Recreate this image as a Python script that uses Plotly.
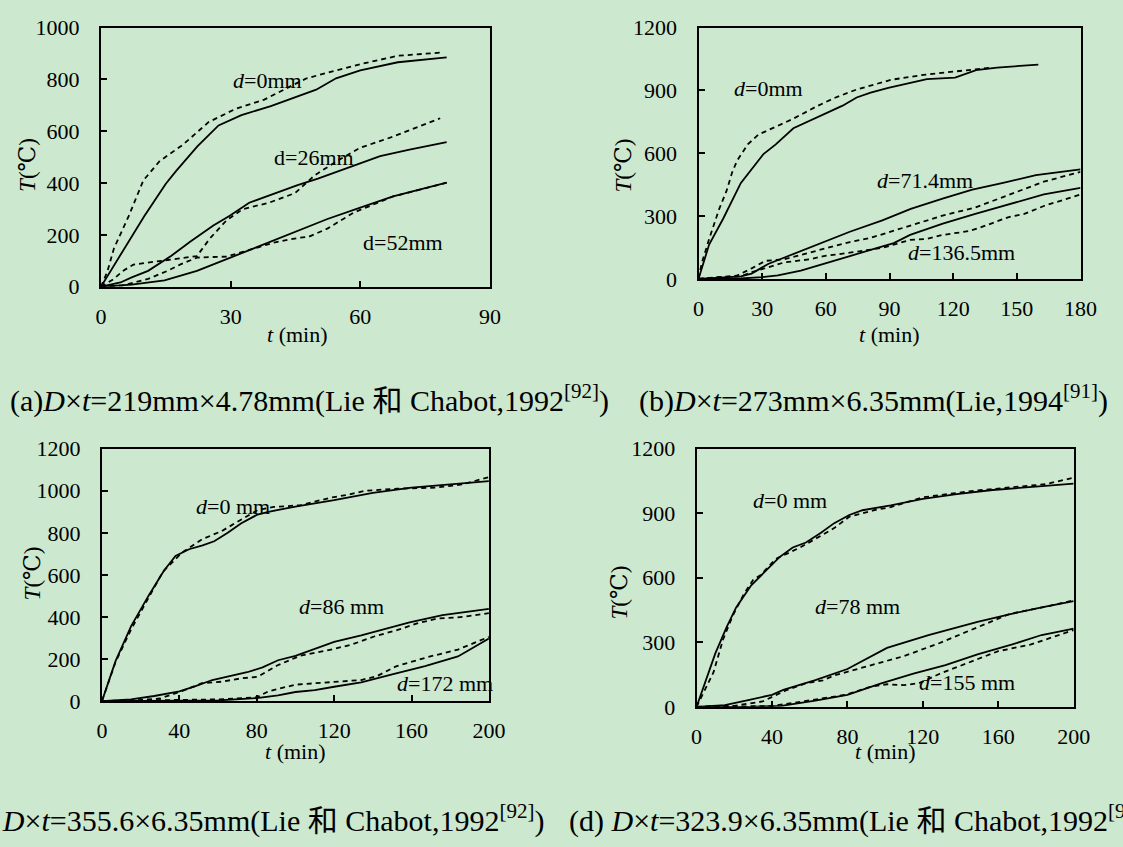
import plotly.graph_objects as go

W, H = 1123, 847
BG = "#cce8cf"
FONT = "Liberation Serif"
SYMFONT = "Liberation Serif, DejaVu Serif"
CJK = "<span style=\"font-family:'Noto Sans CJK SC'\">{}</span>"

# ---------------- data ----------------
# (a) D x t = 219 x 4.78 mm, Lie & Chabot 1992
a_d0_calc_t = [0, 5, 10, 15, 17.4, 22.3, 27.2, 32.5, 39.3, 49.8, 54.4, 60, 68.7, 80]
a_d0_calc_T = [0, 136, 272, 397, 447, 541, 622, 662, 697, 760, 804, 835, 866, 885]
a_d0_test_t = [0, 1.5, 3, 6.4, 9.8, 13.6, 18.9, 24.9, 31, 37.8, 43, 47.6, 53.6, 60.4, 68.7, 79.3]
a_d0_test_T = [0, 60, 148, 272, 410, 485, 547, 635, 685, 722, 766, 804, 831, 860, 891, 904]
a_d26_calc_t = [0, 4.5, 7.1, 10.9, 16.2, 20.7, 26, 29.8, 34.3, 40.4, 45.5, 50.2, 56.2, 64.6, 71.4, 80]
a_d26_calc_T = [0, 16, 36, 61, 118, 174, 236, 274, 324, 361, 392, 417, 454, 504, 529, 558]
a_d26_test_t = [0, 3, 5, 7.5, 12.8, 18, 22.2, 25.2, 29, 32.8, 38.9, 44.9, 49.4, 54.7, 60, 67.6, 78.5]
a_d26_test_T = [0, 30, 60, 85, 97, 108, 118, 186, 255, 299, 324, 361, 429, 486, 536, 579, 650]
a_d52_calc_t = [0, 7.1, 14.7, 22.2, 29.8, 37.3, 44.9, 52.4, 60, 67.6, 80]
a_d52_calc_T = [0, 7.5, 24, 61, 111, 161, 211, 261, 305, 348, 401]
a_d52_test_t = [0, 5, 10.9, 15.4, 18.4, 22.2, 25, 29, 33, 40, 45.6, 48, 52.4, 58.5, 67.6, 75.9, 80]
a_d52_test_T = [0, 5, 30, 61, 86, 112, 114, 116, 135, 170, 188, 192, 224, 286, 348, 383, 401]

# (b) D x t = 273 x 6.35 mm, Lie 1994
b_d0_calc_t = [0, 5, 11.6, 19.9, 30.6, 36.4, 44.7, 53, 59.6, 67.9, 74.5, 81.1, 89.4, 97.7, 107.6, 120.9, 130.8, 140.7, 160.1]
b_d0_calc_T = [0, 164, 287, 457, 596, 642, 719, 758, 789, 827, 866, 889, 912, 932, 954, 961, 997, 1009, 1023]
b_d0_test_t = [0, 1.5, 5, 9.7, 13.2, 15.9, 18.2, 23.2, 28.1, 34.8, 44.7, 56.3, 64.6, 74.5, 81.1, 91, 106, 119.2, 138.2]
b_d0_test_T = [0, 75, 190, 333, 420, 510, 565, 642, 688, 719, 765, 827, 866, 904, 923, 951, 974, 989, 1009]
b_d71_calc_t = [0, 10, 20, 25, 32.8, 40.5, 48.2, 59, 71.3, 86.6, 100, 115, 129, 143, 159, 180]
b_d71_calc_T = [0, 5, 12, 25, 71, 102, 132, 176, 225, 279, 334, 383, 426, 457, 495, 523]
b_d71_test_t = [0, 10, 18, 25, 31.5, 40.5, 52, 60.5, 71.3, 80.5, 86.6, 99.7, 115, 130.4, 150.4, 162.7, 180]
b_d71_test_T = [0, 8, 15, 50, 86, 94, 125, 148, 176, 194, 213, 256, 302, 341, 418, 464, 511]
b_d136_calc_t = [0, 20, 30, 37.4, 48.2, 59, 71.3, 84.3, 92, 99.7, 115.1, 130.4, 146, 162.7, 180]
b_d136_calc_T = [0, 2, 8, 17, 40, 71, 109, 148, 171, 210, 264, 310, 355, 403, 434]
b_d136_test_t = [0, 10, 20, 25, 32.8, 40.5, 52.8, 59, 71.3, 80.5, 86.6, 99.7, 107.4, 115.1, 127.4, 133.5, 145.8, 153.5, 162.7, 180]
b_d136_test_T = [0, 8, 12, 32, 55, 79, 94, 109, 125, 140, 148, 186, 191, 210, 228, 248, 294, 310, 348, 403]

# (c) D x t = 355.6 x 6.35 mm, Lie & Chabot 1992
c_d0_calc_t = [0, 7, 15, 24, 32, 38, 45, 52, 58, 65, 72, 80, 86, 100, 120, 140, 160, 180, 200]
c_d0_calc_T = [0, 190, 355, 500, 620, 690, 722, 740, 760, 800, 846, 885, 900, 925, 955, 990, 1015, 1030, 1046]
c_d0_test_t = [0, 7, 15, 24, 31.5, 41.6, 51.7, 61.8, 72, 80.4, 88.8, 102.3, 119.1, 127.6, 136, 152.8, 172.6, 186, 200]
c_d0_test_T = [0, 185, 340, 490, 615, 708, 769, 808, 862, 908, 923, 931, 969, 982, 1000, 1010, 1015, 1030, 1065]
c_d86_calc_t = [0, 15, 27, 40, 48, 57, 66, 75, 83, 91, 100, 120, 134, 159, 176, 200]
c_d86_calc_T = [0, 8, 24, 46, 70, 100, 118, 137, 160, 194, 215, 281, 312, 374, 409, 438]
c_d86_test_t = [0, 20, 30, 40.7, 51.7, 61.8, 72, 80.4, 90.5, 102.3, 119.1, 129.2, 141, 152.8, 162.9, 173, 186.5, 200]
c_d86_test_T = [0, 5, 12, 45, 85, 92, 108, 115, 169, 215, 246, 269, 308, 338, 369, 392, 400, 418]
c_d172_calc_t = [0, 40, 60, 80, 91, 100, 110, 120, 134, 150, 167, 184, 200]
c_d172_calc_T = [0, 1, 3, 14, 27, 43, 52, 68, 89, 127, 166, 212, 297]
c_d172_test_t = [0, 20, 40, 60, 80, 86, 100, 119, 134, 142, 152, 168, 184, 200]
c_d172_test_T = [0, 2, 5, 8, 18, 46, 78, 92, 100, 118, 165, 208, 245, 305]

# (d) D x t = 323.9 x 6.35 mm, Lie & Chabot 1992
d_d0_calc_t = [0, 5, 10, 16, 21, 29, 36, 44, 51, 58, 66, 73, 81, 88, 103, 120, 138, 157, 185, 200]
d_d0_calc_T = [0, 125, 250, 372, 462, 565, 628, 696, 741, 764, 809, 854, 892, 914, 937, 967, 989, 1008, 1027, 1038]
d_d0_test_t = [0, 4, 9, 14, 19, 25, 30, 34, 42, 55, 66, 73, 81, 94, 103, 120, 133, 148, 166, 185, 200]
d_d0_test_T = [0, 70, 161, 312, 420, 523, 590, 613, 688, 741, 794, 831, 884, 914, 929, 974, 989, 1005, 1020, 1035, 1065]
d_d78_calc_t = [0, 15, 28, 40, 46, 63, 80, 101, 123, 149, 167, 183, 200]
d_d78_calc_T = [0, 8, 33, 56, 79, 124, 176, 274, 334, 395, 432, 463, 492]
d_d78_test_t = [0, 20, 35, 47, 58, 67, 73, 92, 110, 129, 153, 166, 185, 200]
d_d78_test_T = [0, 5, 25, 75, 110, 123, 146, 191, 236, 297, 387, 432, 465, 495]
d_d155_calc_t = [0, 30, 45, 63, 80, 97.5, 115, 132, 149, 167, 183, 200]
d_d155_calc_T = [0, 1, 5, 29, 56, 108, 154, 194, 244, 289, 334, 364]
d_d155_test_t = [0, 20, 40, 60, 79, 92, 101, 110, 118, 129, 144, 160, 177, 200]
d_d155_test_T = [0, 2, 4, 30, 56, 93, 105, 101, 110, 154, 206, 259, 289, 357]

# axis ticks
a_xticks = [0, 30, 60, 90]
a_yticks = [0, 200, 400, 600, 800, 1000]
b_xticks = [0, 30, 60, 90, 120, 150, 180]
b_yticks = [0, 300, 600, 900, 1200]
c_xticks = [0, 40, 80, 120, 160, 200]
c_yticks = [0, 200, 400, 600, 800, 1000, 1200]
d_xticks = [0, 40, 80, 120, 160, 200]
d_yticks = [0, 300, 600, 900, 1200]

# ---------------- layout helpers ----------------
def fx(px):
    return px / W

def fy(py):
    return 1 - py / H

fig = go.Figure()

panels = [
    ("", (97, 494), (16, 283), [0, 90], [0, 1000], a_xticks, a_yticks,
     [(a_d0_calc_t, a_d0_calc_T, "solid"), (a_d0_test_t, a_d0_test_T, "dash"),
      (a_d26_calc_t, a_d26_calc_T, "solid"), (a_d26_test_t, a_d26_test_T, "dash"),
      (a_d52_calc_t, a_d52_calc_T, "solid"), (a_d52_test_t, a_d52_test_T, "dash")]),
    ("2", (707, 1097), (16, 275), [0, 180], [0, 1200], b_xticks, b_yticks,
     [(b_d0_calc_t, b_d0_calc_T, "solid"), (b_d0_test_t, b_d0_test_T, "dash"),
      (b_d71_calc_t, b_d71_calc_T, "solid"), (b_d71_test_t, b_d71_test_T, "dash"),
      (b_d136_calc_t, b_d136_calc_T, "solid"), (b_d136_test_t, b_d136_test_T, "dash")]),
    ("3", (98, 493), (450, 710), [0, 200], [0, 1200], c_xticks, c_yticks,
     [(c_d0_calc_t, c_d0_calc_T, "solid"), (c_d0_test_t, c_d0_test_T, "dash"),
      (c_d86_calc_t, c_d86_calc_T, "solid"), (c_d86_test_t, c_d86_test_T, "dash"),
      (c_d172_calc_t, c_d172_calc_T, "solid"), (c_d172_test_t, c_d172_test_T, "dash")]),
    ("4", (705, 1090), (450, 716), [0, 200], [0, 1200], d_xticks, d_yticks,
     [(d_d0_calc_t, d_d0_calc_T, "solid"), (d_d0_test_t, d_d0_test_T, "dash"),
      (d_d78_calc_t, d_d78_calc_T, "solid"), (d_d78_test_t, d_d78_test_T, "dash"),
      (d_d155_calc_t, d_d155_calc_T, "solid"), (d_d155_test_t, d_d155_test_T, "dash")]),
]

axis_style = dict(showline=True, linecolor="black", linewidth=2, mirror=True,
                  ticks="inside", ticklen=6, tickwidth=1.5, tickcolor="black",
                  showgrid=False, zeroline=False,
                  tickfont=dict(family=FONT, size=22, color="black"))

for suf, (x0, x1), (ytop, ybot), xr, yr, xt, yt, series in panels:
    xa = "x" + suf
    ya = "y" + suf
    for t, T, style in series:
        fig.add_trace(go.Scatter(
            x=t, y=T, mode="lines", xaxis=xa, yaxis=ya, showlegend=False,
            line=dict(color="black", width=1.8,
                      dash="solid" if style == "solid" else "5px,4px")))
    fig.layout["xaxis" + suf] = dict(axis_style, domain=[fx(x0), fx(x1)], range=xr,
                                    tickvals=xt, anchor=ya, ticklabelstandoff=9)
    fig.layout["yaxis" + suf] = dict(axis_style, domain=[fy(ybot), fy(ytop)], range=yr,
                                    tickvals=yt, anchor=xa, ticklabelstandoff=15)

annotations = []

def text(x, y, s, size=22, xanchor="left", angle=0, family=FONT):
    annotations.append(dict(x=fx(x), y=fy(y), xref="paper", yref="paper", text=s,
                            showarrow=False, xanchor=xanchor, yanchor="middle",
                            textangle=angle,
                            font=dict(family=family, size=size, color="black")))

# axis titles
for cx, cy in [(298, 332), (902, 332), (296, 762), (898, 762)]:
    text(cx, cy, "<i>t</i> (min)", xanchor="center")
for cx, cy in [(22, 158), (630, 158), (27, 578), (626, 598)]:
    text(cx, cy, "<i>T</i>(℃)", size=23, xanchor="center", angle=-90, family=SYMFONT)

# curve labels
text(230, 71, "<i>d</i>=0mm")
text(272, 150, "d=26mm")
text(362, 237, "d=52mm")
text(741, 79, "<i>d</i>=0mm")
text(887, 174, "<i>d</i>=71.4mm")
text(919, 248, "<i>d</i>=136.5mm")
text(192, 510, "<i>d</i>=0 mm")
text(297, 613, "<i>d</i>=86 mm")
text(397, 692, "<i>d</i>=172 mm")
text(761, 503, "<i>d</i>=0 mm")
text(824, 613, "<i>d</i>=78 mm")
text(930, 691, "<i>d</i>=155 mm")

# panel captions
HE = CJK.format("和")
text(2, 398, "(a)<i>D</i>×<i>t</i>=219mm×4.78mm(Lie " + HE + " Chabot,1992<sup>[92]</sup>)", size=30)
text(644, 398, "(b)<i>D</i>×<i>t</i>=273mm×6.35mm(Lie,1994<sup>[91]</sup>)", size=30)
text(551, 830, "(c) <i>D</i>×<i>t</i>=355.6×6.35mm(Lie " + HE + " Chabot,1992<sup>[92]</sup>)", size=30, xanchor="right")
text(573, 830, "(d) <i>D</i>×<i>t</i>=323.9×6.35mm(Lie " + HE + " Chabot,1992<sup>[92]</sup>)", size=30)

fig.update_layout(width=W, height=H, autosize=False,
                  margin=dict(l=0, r=0, t=0, b=0),
                  paper_bgcolor=BG, plot_bgcolor=BG,
                  annotations=annotations, showlegend=False)

fig.write_html("out.html")
